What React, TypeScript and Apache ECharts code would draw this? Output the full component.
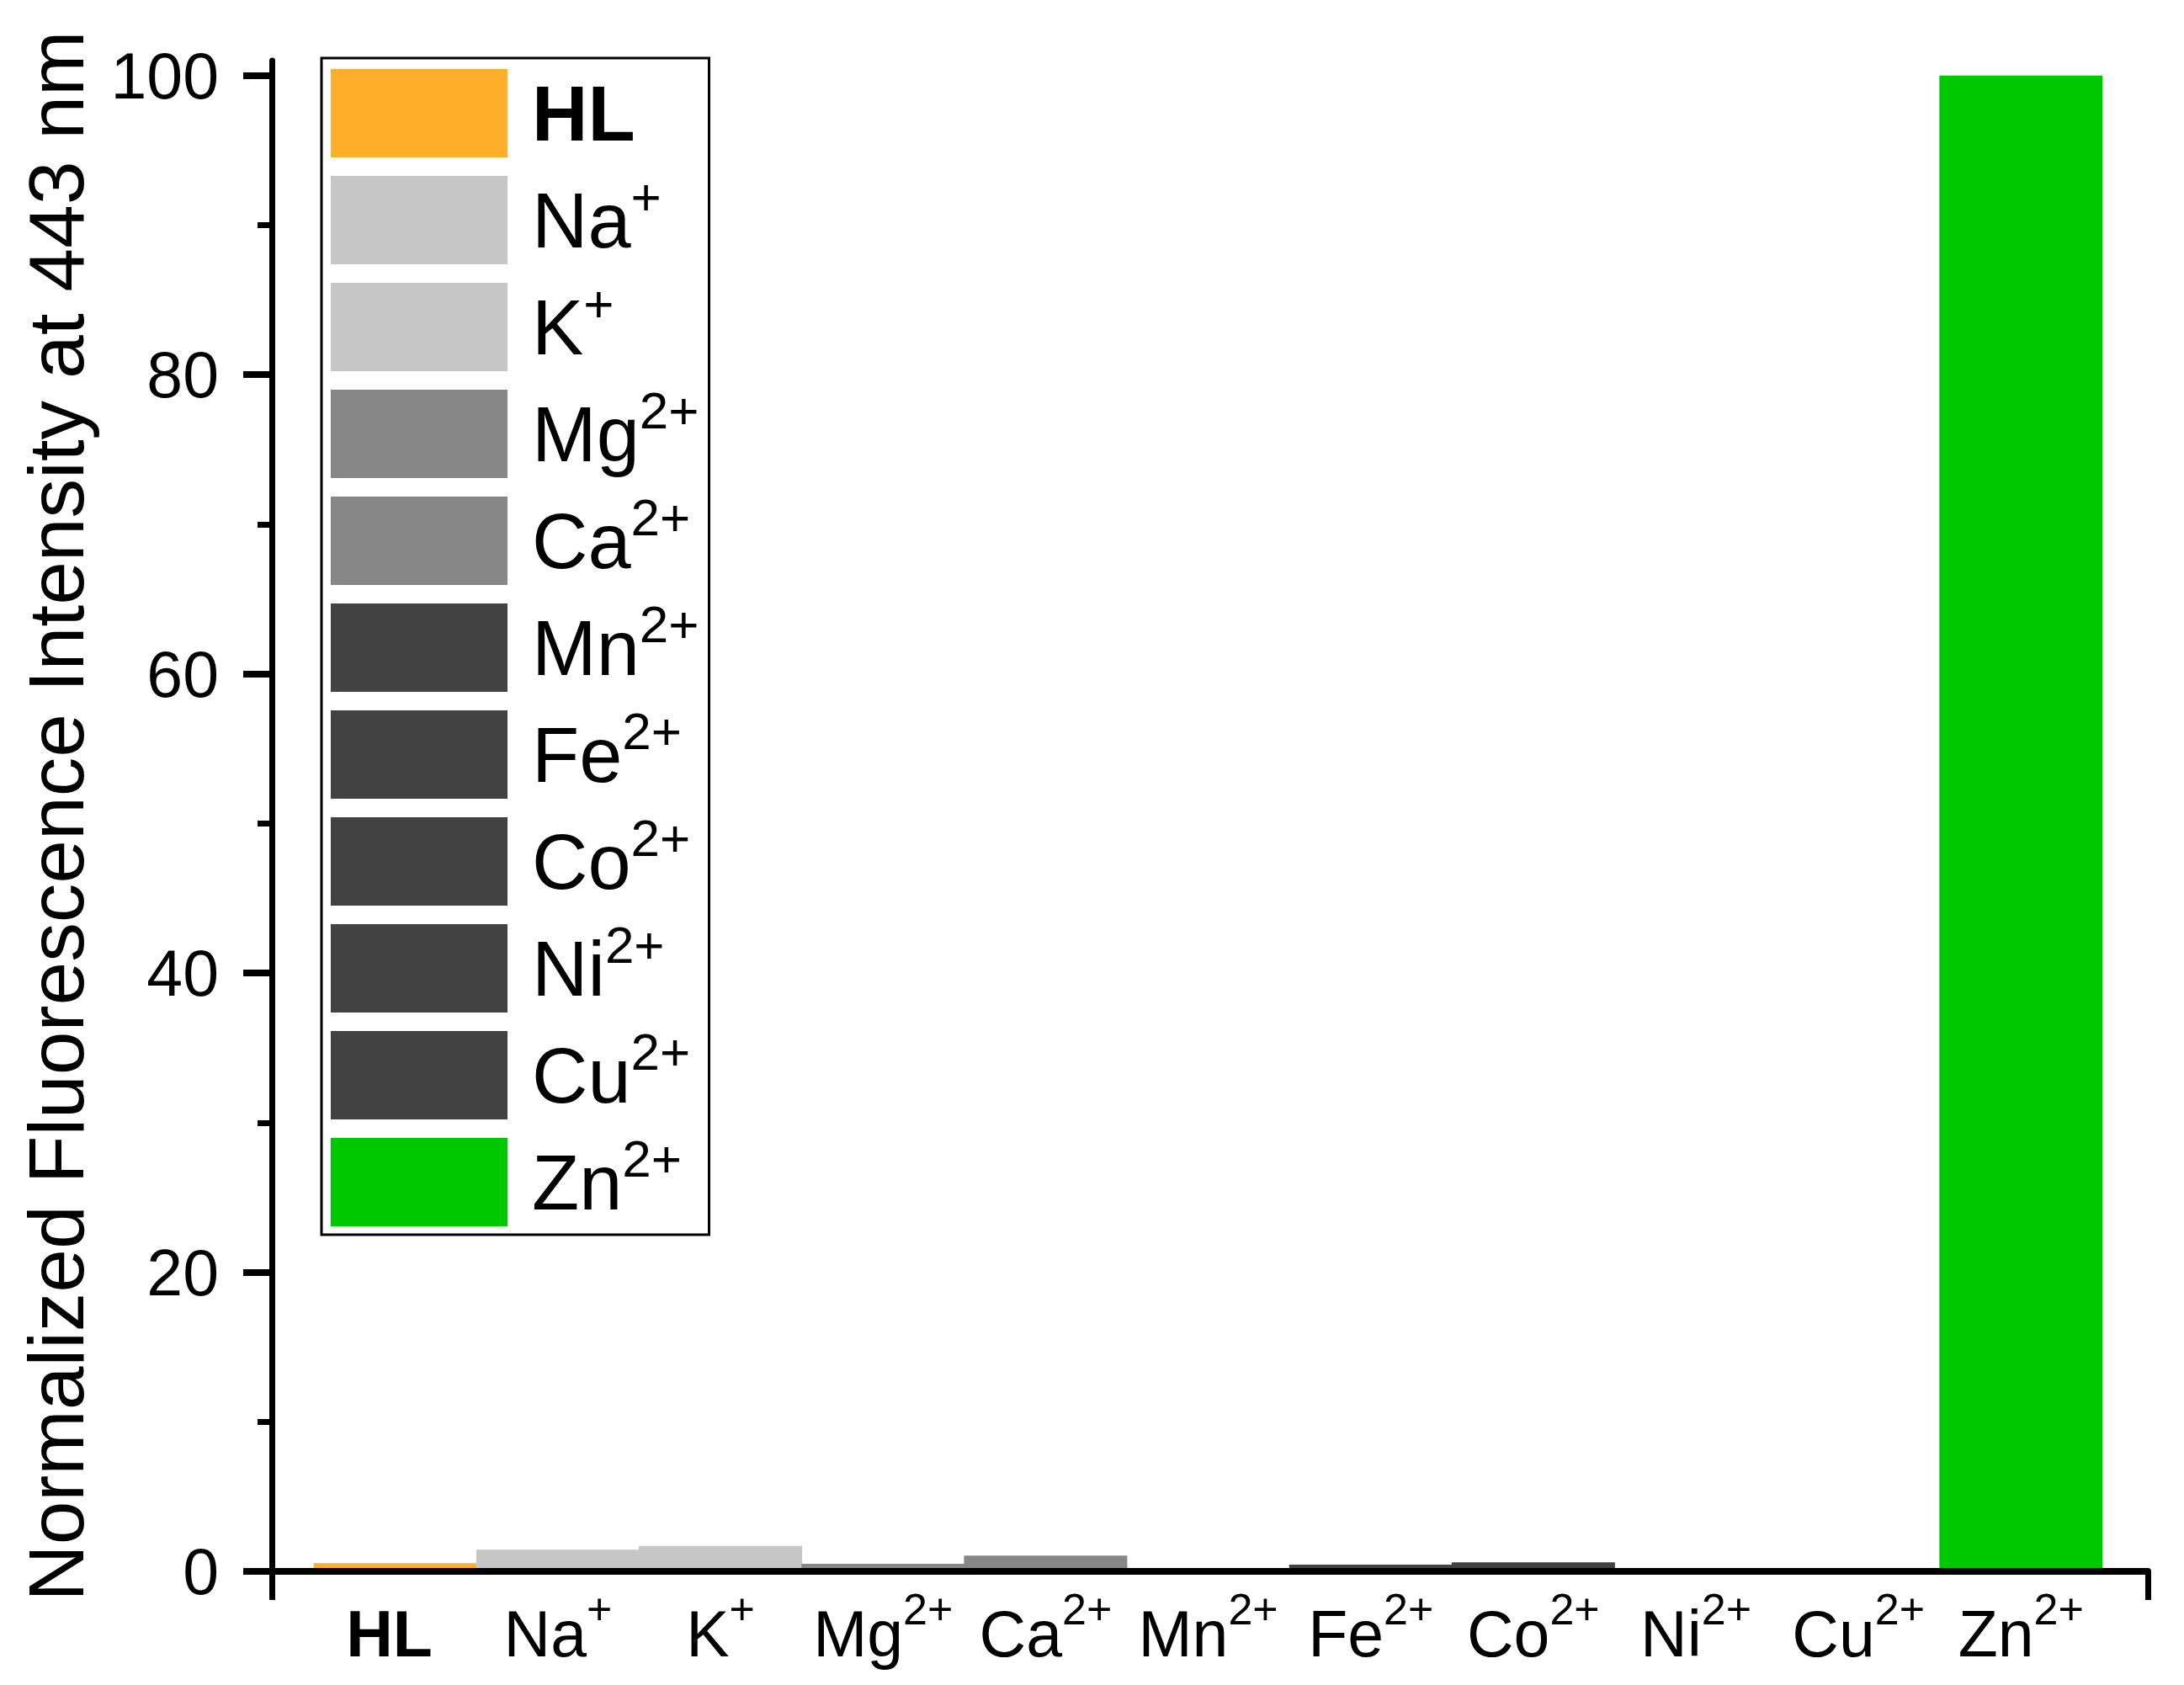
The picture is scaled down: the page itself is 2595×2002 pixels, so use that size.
import React, { useEffect, useRef } from "react";
import * as echarts from "echarts";

// ---- data ----
const ions = ["HL", "Na", "K", "Mg", "Ca", "Mn", "Fe", "Co", "Ni", "Cu", "Zn"];
const charges = ["", "+", "+", "2+", "2+", "2+", "2+", "2+", "2+", "2+", "2+"];
const intensity = [0.55, 1.45, 1.7, 0.5, 1.05, 0.2, 0.45, 0.6, 0.15, 0.15, 100];
const barColors = [
  "#FFAF2A", "#C6C6C6", "#C6C6C6", "#878787", "#878787",
  "#424242", "#424242", "#424242", "#424242", "#424242", "#00C800",
];
const yTicks = [0, 20, 40, 60, 80, 100];
const yTitle = "Normalized Fluorescence Intensity at 443 nm";

const names = ions.map((ion, i) => ion + charges[i]);
const FONT = "Liberation Sans, Arial, Helvetica, sans-serif";

function richLabel(i: number, p: string): string {
  if (i < 0 || i >= ions.length) return "";
  if (charges[i] === "") return `{${p}b|${ions[i]}}{${p}s| }`;
  return `{${p}m|${ions[i]}}{${p}s|${charges[i]}}`;
}

const X_MIN = -0.76;
const X_MAX = 10.78;

function buildOption(): any {
  return {
    animation: false,
    backgroundColor: "#ffffff",
    grid: { left: 323, right: 43, top: 72, bottom: 135, containLabel: false },
    legend: {
      orient: "vertical",
      left: 382,
      top: 69,
      padding: [6, 12, 3, 11],
      itemWidth: 210,
      itemHeight: 105,
      itemGap: 8,
      icon: "rect",
      borderColor: "#000",
      borderWidth: 3,
      backgroundColor: "#fff",
      selectedMode: false,
      data: names,
      itemStyle: { borderWidth: 0 },
      formatter: (name: string) => richLabel(names.indexOf(name), "l"),
      textStyle: {
        fontFamily: FONT,
        fontSize: 92,
        color: "#000",
        padding: [0, 0, 0, 24],
        rich: {
          lm: { fontFamily: FONT, fontSize: 92, lineHeight: 92, color: "#000", verticalAlign: "middle" },
          lb: { fontFamily: FONT, fontSize: 92, lineHeight: 92, color: "#000", fontWeight: "bold", verticalAlign: "middle" },
          ls: { fontFamily: FONT, fontSize: 62, lineHeight: 20, color: "#000", padding: [0, 0, 57, 0], verticalAlign: "middle" },
        },
      },
    },
    xAxis: {
      type: "value",
      min: X_MIN,
      max: X_MAX,
      z: 10,
      splitLine: { show: false },
      axisLine: { show: true, onZero: false, lineStyle: { color: "#000", width: 8 } },
      axisTick: {
        show: true,
        customValues: [X_MIN, X_MAX],
        length: 34,
        lineStyle: { color: "#000", width: 7 },
      },
      axisLabel: {
        show: true,
        customValues: ions.map((_, i) => i),
        margin: 35,
        formatter: (v: number) => richLabel(Math.round(v), "x"),
        rich: {
          xm: { fontFamily: FONT, fontSize: 77, lineHeight: 77, color: "#000", verticalAlign: "middle" },
          xb: { fontFamily: FONT, fontSize: 77, lineHeight: 77, color: "#000", fontWeight: "bold", verticalAlign: "middle" },
          xs: { fontFamily: FONT, fontSize: 52, lineHeight: 20, color: "#000", padding: [0, 0, 58, 0], verticalAlign: "middle" },
        },
      },
    },
    yAxis: {
      type: "value",
      min: 0,
      max: 101,
      interval: 20,
      z: 10,
      name: yTitle,
      nameLocation: "middle",
      nameRotate: 90,
      nameGap: 210,
      nameTextStyle: { fontFamily: FONT, fontSize: 93, color: "#000" },
      splitLine: { show: false },
      axisLine: { show: true, onZero: false, lineStyle: { color: "#000", width: 7 } },
      axisTick: {
        show: true,
        customValues: yTicks,
        length: 34,
        lineStyle: { color: "#000", width: 8 },
      },
      minorTick: { show: true, splitNumber: 2, length: 17, lineStyle: { color: "#000", width: 7 } },
      axisLabel: {
        customValues: yTicks,
        margin: 63,
        fontFamily: FONT,
        fontSize: 77,
        color: "#000",
      },
    },
    series: ions.map((_, i) => ({
      name: names[i],
      type: "bar",
      stack: "all",
      barWidth: 194,
      data: [[i, intensity[i]]],
      itemStyle: { color: barColors[i], borderWidth: 0 },
      z: 2,
    })),
  };
}

export default function App() {
  const ref = useRef<HTMLDivElement>(null);
  useEffect(() => {
    document.body.style.margin = "0";
    const chart = echarts.init(ref.current as HTMLDivElement, null, { renderer: "svg" });
    chart.setOption(buildOption());
    return () => chart.dispose();
  }, []);
  return (
    <div
      ref={ref}
      style={{ position: "absolute", left: 0, top: 0, width: 2595, height: 2002, background: "#fff" }}
    />
  );
}
